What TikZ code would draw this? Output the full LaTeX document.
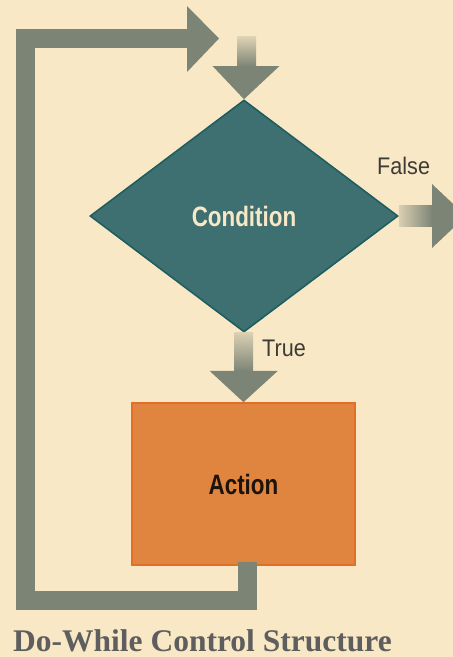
\documentclass[tikz,border=0pt]{standalone}
\usepackage{fontspec}
\setmainfont{Liberation Serif}
\newfontfamily\condfont[FakeStretch=0.8]{Liberation Sans}
\newfontfamily\labelfont[FakeStretch=0.9]{Liberation Sans}
\usetikzlibrary{shapes.geometric,arrows.meta,calc}
\definecolor{paper}{HTML}{F9E8C6}
\definecolor{flowgray}{HTML}{7C8476}
\definecolor{teal}{HTML}{3E7072}
\definecolor{tealedge}{HTML}{1F5E60}
\definecolor{orangefill}{HTML}{E0853F}
\definecolor{orangeedge}{HTML}{E46D28}
\definecolor{labelgray}{HTML}{3C3C36}
\definecolor{captiongray}{HTML}{5E5E5E}
\begin{document}
\begin{tikzpicture}[x=1pt,y=-1pt,
  decision/.style={diamond,draw=tealedge,line width=1.6pt,fill=teal,
    minimum width=308pt,minimum height=232pt,inner sep=0pt,
    text=paper,font=\condfont\bfseries\fontsize{28}{32}\selectfont},
  process/.style={rectangle,draw=orangeedge,line width=1.6pt,fill=orangefill,
    minimum width=223pt,minimum height=162pt,inner sep=0pt,
    text=black!85!brown,font=\condfont\bfseries\fontsize{28}{32}\selectfont},
  branchlabel/.style={text=labelgray,font=\labelfont\fontsize{24}{28}\selectfont,inner sep=0pt},
  loopline/.style={draw=flowgray,line width=19pt,line join=miter},
  head/.style={fill=flowgray},
]
% canvas
\path[clip] (0,0) rectangle (453,657);
\fill[paper] (0,0) rectangle (453,657);

% shapes
\node[decision] (cond) at (244,216) {Condition};
\node[process] (action) at (243.5,484) {Action};

% entry arrow into the decision
\coordinate (entrytop) at (246.5,36);
\coordinate (entrybase) at (246.5,66);
\shade[top color=paper!80!flowgray,bottom color=flowgray]
  ($(entrytop)+(-9.5,0)$) rectangle ($(entrybase)+(-9.5,0)+(19,0.5)$);
\fill[head] ($(entrybase)+(-34,0)$) -- ($(entrybase)+(33,0)$) -- (cond.north) -- cycle;

% true branch
\coordinate (truebase) at ($(cond.south)!0.55!(action.north)$);
\shade[top color=paper!75!flowgray,bottom color=flowgray]
  ($(cond.south)+(-9.5,0)$) rectangle ($(truebase)+(9.5,0.5)$);
\fill[head] ($(truebase)+(-34,0)$) -- ($(truebase)+(34,0)$) -- (action.north) -- cycle;
\node[branchlabel,anchor=base west] (truelbl) at (262,356) {True};

% false branch
\coordinate (falsebase) at (432,216);
\coordinate (falsetip) at (466,216);
\shade[left color=paper!75!flowgray,right color=flowgray]
  ($(cond.east)+(0,-10.5)$) rectangle ($(falsebase)+(0.5,10.5)$);
\fill[head] ($(falsebase)+(0,-32)$) -- (falsetip) -- ($(falsebase)+(0,32)$) -- cycle;
\node[branchlabel,anchor=base west] (falselbl) at (377,174) {False};

% loop back from the action to the top
\coordinate (loopend) at (188,38.5);
\draw[loopline] ($(action.south)+(3.5,-4)$) |- (25,600.5) |- (loopend);
\fill[head] (187,6) -- (219,38.5) -- (187,72) -- cycle;

% caption
\node[anchor=base west,inner sep=0pt,text=captiongray,
  font=\bfseries\fontsize{31.5}{34}\selectfont] (caption) at (13,651) {Do-While Control Structure};
\end{tikzpicture}
\end{document}
